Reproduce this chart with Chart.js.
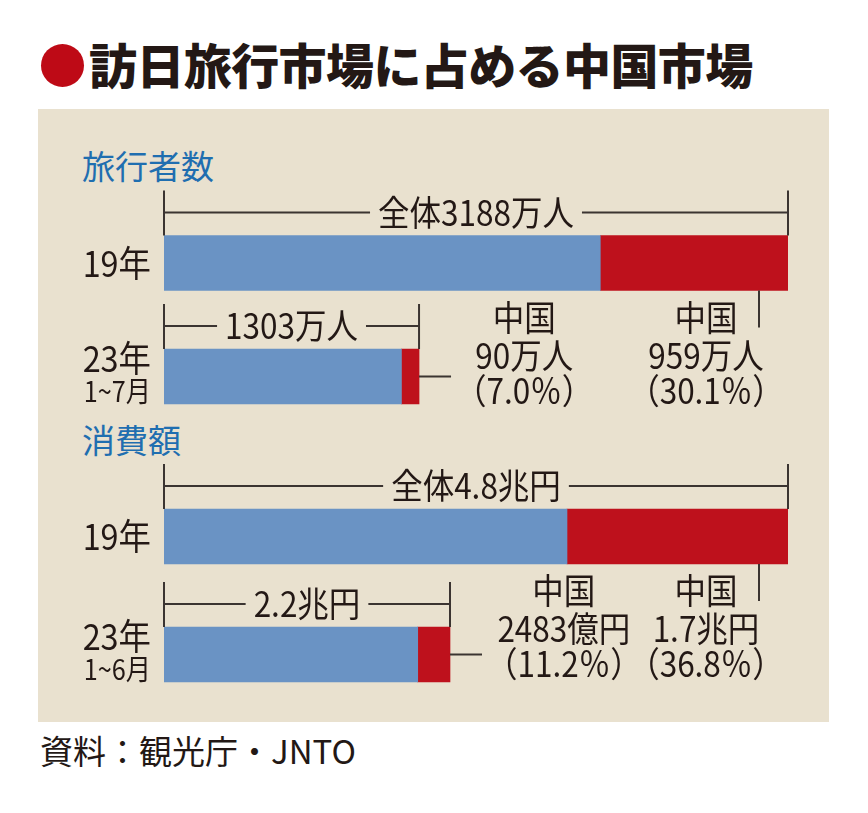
<!DOCTYPE html>
<html>
<head>
<meta charset="utf-8">
<script src="https://cdn.jsdelivr.net/npm/chart.js@4"></script>
<style>
  body { margin: 0; background: #fff; width: 868px; height: 813px; position: relative; overflow: hidden;
         font-family: "Noto Sans CJK JP", sans-serif; color: #231815; }
  #dot { position: absolute; left: 41px; top: 44px; width: 43px; height: 43px; border-radius: 50%; background: #be0a16; }
  #title { position: absolute; left: 89px; top: 39px; font-size: 48px; line-height: 1; font-weight: 900; white-space: nowrap; letter-spacing: -0.6px; }
  #panel { position: absolute; left: 38px; top: 109px; width: 791px; height: 613px; background: #e9e1cf; }
  .head { position: absolute; left: 82px; font-size: 33px; line-height: 1; color: #1f6eb0; white-space: nowrap; }
  canvas { position: absolute; left: 38px; }
  #source { position: absolute; left: 40px; top: 734px; font-size: 33px; line-height: 1; white-space: nowrap; }
</style>
</head>
<body>
<div id="dot"></div>
<div id="title">訪日旅行市場に占める中国市場</div>
<div id="panel"></div>
<div class="head" style="top:149px">旅行者数</div>
<div class="head" style="top:423px">消費額</div>
<canvas id="visitors" width="791" height="310" style="top:130px"></canvas>
<canvas id="spending" width="791" height="302" style="top:420px"></canvas>
<div id="source">資料：観光庁・JNTO</div>

<script>
// 旅行者数（万人）
const years = ['19年', '23年'];
const visitorPeriods = ['', '1~7月'];
const visitorTotal = [3188, 1303];
const visitorChina = [959, 90];
const visitorShare = ['30.1', '7.0'];

// 消費額（億円）
const spendPeriods = ['', '1~6月'];
const spendTotal = [48000, 22000];
const spendChina = [17000, 2483];
const spendShare = ['36.8', '11.2'];

const blue = '#6a93c4';
const red = '#be111c';
const ink = '#231815';
const font = '"Noto Sans CJK JP", sans-serif';
const squeeze = 0.9;   // 元図の長体文字に寄せる

function man(v) { return v + '万人'; }
function oku(v) { return v >= 10000 ? (v / 10000) + '兆円' : v + '億円'; }

// 横方向に少し詰めた文字
function textWidth(ctx, text, size) {
    ctx.font = size + 'px ' + font;
    return ctx.measureText(text).width * squeeze;
}
function drawText(ctx, text, x, y, size, align) {
    ctx.save();
    ctx.font = size + 'px ' + font;
    ctx.fillStyle = ink;
    ctx.textAlign = align;
    ctx.textBaseline = 'middle';
    ctx.translate(x, y);
    ctx.scale(squeeze, 1);
    ctx.fillText(text, 0, 0);
    ctx.restore();
}

function bracket(ctx, x0, x1, top, text) {
    const yLine = top - 23;
    const w = textWidth(ctx, text, 35);
    const cx = (x0 + x1) / 2;
    ctx.strokeStyle = '#3b3431';
    ctx.lineWidth = 2;
    ctx.beginPath();
    ctx.moveTo(x0, top - 45); ctx.lineTo(x0, top);
    ctx.moveTo(x1, top - 45); ctx.lineTo(x1, top);
    ctx.moveTo(x0, yLine); ctx.lineTo(cx - w / 2 - 8, yLine);
    ctx.moveTo(cx + w / 2 + 8, yLine); ctx.lineTo(x1, yLine);
    ctx.stroke();
    drawText(ctx, text, cx, yLine, 35, 'center');
}

const notesPlugin = {
    id: 'notes',
    afterDatasetsDraw(chart, args, opts) {
        const ctx = chart.ctx;
        const area = chart.chartArea;
        const blueBars = chart.getDatasetMeta(0).data;
        const redBars = chart.getDatasetMeta(1).data;
        ctx.save();

        // 年ラベル
        const lx = area.left - 13;
        blueBars.forEach((b, i) => {
            const p = b.getProps(['y', 'height'], true);
            const top = p.y - p.height / 2;
            if (opts.periods[i]) {
                drawText(ctx, years[i], lx, top + 9, 36, 'right');
                drawText(ctx, opts.periods[i], lx, top + 42, 28, 'right');
            } else {
                drawText(ctx, years[i], lx, p.y, 36, 'right');
            }
        });

        // 全体の括弧
        redBars.forEach((b, i) => {
            const p = b.getProps(['x', 'y', 'height'], true);
            const x0 = blueBars[i].getProps(['base'], true).base;
            bracket(ctx, x0, p.x, p.y - p.height / 2, opts.totals[i]);
        });

        // 中国の注記
        const r0 = redBars[0].getProps(['x', 'y', 'height'], true);
        const bottom = r0.y + r0.height / 2;
        const rows = [bottom + 27, bottom + 65, bottom + 100];
        ctx.strokeStyle = '#3b3431';
        ctx.lineWidth = 2;
        ctx.beginPath();
        ctx.moveTo(r0.x - 29, bottom); ctx.lineTo(r0.x - 29, bottom + 37);
        ctx.stroke();
        opts.china[0].forEach((t, k) => drawText(ctx, t, r0.x - 82, rows[k], 35, 'center'));

        const r1 = redBars[1].getProps(['x', 'y'], true);
        ctx.beginPath();
        ctx.moveTo(r1.x, r1.y); ctx.lineTo(r1.x + 32, r1.y);
        ctx.stroke();
        const maxW = Math.max(...opts.china[1].map(t => textWidth(ctx, t, 35)));
        const cx = r1.x + 32 + 4 + maxW / 2;
        opts.china[1].forEach((t, k) => drawText(ctx, t, cx, rows[k], 35, 'center'));
        ctx.restore();
    }
};

function makeChart(id, total, china, fmt, share, periods, padding) {
    return new Chart(document.getElementById(id), {
        type: 'bar',
        data: {
            labels: years,
            datasets: [
                { label: '中国以外', data: total.map((v, i) => v - china[i]), backgroundColor: blue, barThickness: 55 },
                { label: '中国', data: china, backgroundColor: red, barThickness: 55 }
            ]
        },
        options: {
            indexAxis: 'y',
            responsive: false,
            animation: false,
            devicePixelRatio: 1,
            layout: { padding: padding },
            scales: {
                x: { stacked: true, display: false, min: 0, max: total[0] },
                y: { stacked: true, display: false }
            },
            plugins: {
                legend: { display: false },
                tooltip: { enabled: false },
                notes: {
                    periods: periods,
                    totals: ['全体' + fmt(total[0]), fmt(total[1])],
                    china: china.map((v, i) => ['中国', fmt(v), '（' + share[i] + '％）'])
                }
            }
        },
        plugins: [notesPlugin]
    });
}

makeChart('visitors', visitorTotal, visitorChina, man, visitorShare, visitorPeriods,
    { left: 126, right: 41, top: 76.25, bottom: 6.75 });
makeChart('spending', spendTotal, spendChina, oku, spendShare, spendPeriods,
    { left: 126, right: 41, top: 57.5, bottom: 8.5 });
</script>
</body>
</html>
